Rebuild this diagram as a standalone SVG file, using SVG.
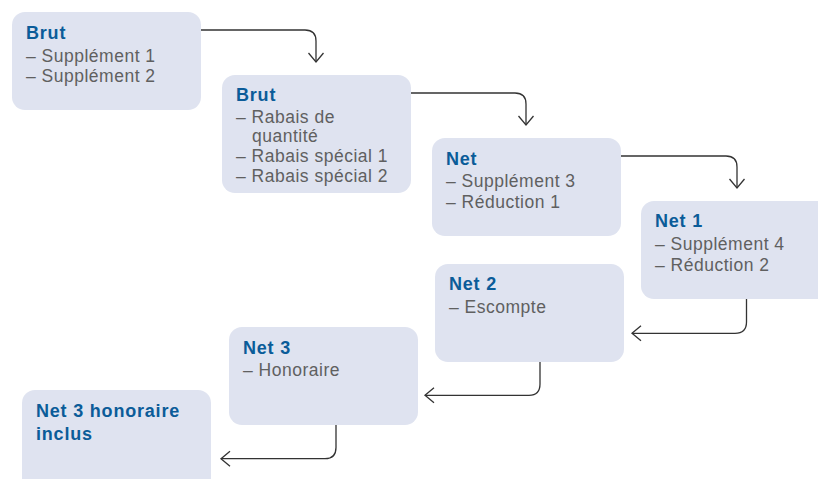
<svg xmlns="http://www.w3.org/2000/svg" width="818" height="479" viewBox="0 0 818 479">
<defs>
<style>
.box{fill:#dfe3f0;}
.t{font-family:"Liberation Sans",Arial,sans-serif;font-size:18px;font-weight:bold;fill:#0b5c99;letter-spacing:0.8px;}
.i{font-family:"Liberation Sans",Arial,sans-serif;font-size:17.5px;fill:#606060;letter-spacing:0.5px;}
.c{fill:none;stroke:#333;stroke-width:1.3;marker-end:url(#arr);}
</style>
<marker id="arr" markerUnits="userSpaceOnUse" markerWidth="20" markerHeight="20" refX="10" refY="10" orient="auto" viewBox="0 0 20 20">
<path d="M1,2.5 L10,10 L1,17.5" fill="none" stroke="#333" stroke-width="1.3"/>
</marker>
</defs>
<rect width="818" height="479" fill="#fff"/>
<g id="node-brut1">
<rect class="box" x="12" y="12" width="189" height="98" rx="13"/>
<text class="t" x="26" y="38.5">Brut</text>
<text class="i" x="26" y="61.5">– Supplément 1</text>
<text class="i" x="26" y="82">– Supplément 2</text>
</g>
<g id="node-brut2">
<rect class="box" x="222" y="75" width="189" height="118" rx="13"/>
<text class="t" x="236" y="101">Brut</text>
<text class="i" x="236" y="122.5">– Rabais de</text>
<text class="i" x="252" y="141.5">quantité</text>
<text class="i" x="236" y="161.5">– Rabais spécial 1</text>
<text class="i" x="236" y="181.5">– Rabais spécial 2</text>
</g>
<g id="node-net">
<rect class="box" x="432" y="138" width="189" height="98" rx="13"/>
<text class="t" x="446" y="164.5">Net</text>
<text class="i" x="446" y="187">– Supplément 3</text>
<text class="i" x="446" y="207.5">– Réduction 1</text>
</g>
<g id="node-net1">
<rect class="box" x="641" y="201" width="189" height="98" rx="13"/>
<text class="t" x="655" y="227">Net 1</text>
<text class="i" x="655" y="250">– Supplément 4</text>
<text class="i" x="655" y="270.5">– Réduction 2</text>
</g>
<g id="node-net2">
<rect class="box" x="435" y="264" width="189" height="98" rx="13"/>
<text class="t" x="449" y="290">Net 2</text>
<text class="i" x="449" y="312.5">– Escompte</text>
</g>
<g id="node-net3">
<rect class="box" x="229" y="327" width="189" height="98" rx="13"/>
<text class="t" x="243" y="353.5">Net 3</text>
<text class="i" x="243" y="375.5">– Honoraire</text>
</g>
<g id="node-net3-honoraire">
<rect class="box" x="22" y="390" width="189" height="110" rx="13"/>
<text class="t" x="36" y="416.5">Net 3 honoraire</text>
<text class="t" x="36" y="439.5">inclus</text>
</g>
<g id="connectors">
<path class="c" d="M201,30 H305 Q316,30 316,41 V62"/>
<path class="c" d="M411,93 H515 Q526,93 526,104 V125"/>
<path class="c" d="M621,156 H726 Q737,156 737,167 V188"/>
<path class="c" d="M746.5,299 V322 Q746.5,333.3 735,333.3 H632"/>
<path class="c" d="M540,362 V384 Q540,395.3 529,395.3 H425"/>
<path class="c" d="M336,425 V447.5 Q336,458.7 325,458.7 H221"/>
</g>
</svg>
